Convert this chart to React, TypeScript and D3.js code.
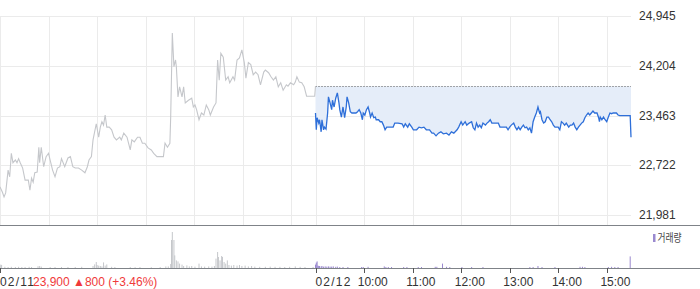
import React from "react";
import * as d3 from "d3";

const priceTicks = [21981, 22722, 23463, 24204, 24945];
const prevClose = 23900;
const dayLabels = ["02/11", "02/12"];
const hourLabels = ["10:00", "11:00", "12:00", "13:00", "14:00", "15:00"];
const summaryText = "23,900 \u25B2800 (+3.46%)";
const legendLabel = "거래량";

// [minute from 09:00, price]
const day1Prices: [number, number][] = [
  [0, 22400], [3, 22320], [5, 22250], [7, 22310], [10, 22650], [12, 22550], [14, 22900], [16, 22760],
  [19, 22800], [21, 22760], [23, 22820], [25, 22760], [28, 22680], [31, 22500], [35, 22500], [37, 22350],
  [39, 22530], [41, 22470], [43, 22610], [46, 22620], [48, 22990], [49, 22760], [51, 22990], [54, 22700],
  [57, 22850], [60, 22900], [62, 22800], [65, 22650], [68, 22550], [71, 22680], [74, 22700], [76, 22820],
  [80, 22700], [84, 22830], [87, 22850], [90, 22700], [93, 22680], [97, 22680], [101, 22650], [105, 22610],
  [108, 22700], [110, 22800], [113, 22850], [115, 23100], [119, 23340], [122, 23140], [124, 23290], [126, 23370],
  [128, 23320], [130, 23470], [132, 23290], [135, 23290], [138, 23250], [141, 23140], [144, 23100], [148, 23140],
  [150, 23100], [153, 23200], [157, 23140], [161, 22950], [163, 23100], [166, 23070], [170, 23140], [173, 23140],
  [176, 23050], [179, 23050], [183, 22980], [187, 22950], [190, 22900], [194, 22850], [198, 22850], [202, 22850],
  [204, 23050], [207, 22990], [210, 23050], [211, 23440], [213, 24690], [215, 24190], [217, 24290], [218, 24190],
  [220, 23740], [222, 23890], [225, 23740], [227, 23890], [229, 23650], [233, 23690], [237, 23720], [239, 23590],
  [241, 23620], [243, 23550], [246, 23400], [249, 23500], [252, 23470], [255, 23620], [258, 23550], [260, 23470],
  [264, 23590], [267, 23650], [269, 24290], [271, 23990], [273, 24390], [276, 24330], [279, 23990], [282, 24040],
  [284, 23950], [288, 24040], [290, 23990], [293, 24290], [296, 24320], [299, 24440], [302, 24250], [304, 24020],
  [307, 24250], [310, 24220], [313, 24070], [316, 24110], [319, 24070], [322, 23920], [326, 24110], [328, 24140],
  [332, 24100], [335, 24040], [338, 23990], [341, 24040], [344, 23890], [347, 23950], [350, 23840], [354, 23920],
  [356, 23900], [359, 23950], [363, 23920], [365, 23960], [367, 24040], [370, 23960], [373, 23950], [376, 23890],
  [379, 23750], [389, 23750], [390, 23900],
];

const day2Prices: [number, number][] = [
  [0, 23500], [1, 23250], [2, 23430], [4, 23350], [5, 23400], [7, 23220], [8, 23400], [10, 23250],
  [11, 23290], [13, 23260], [15, 23500], [16, 23740], [18, 23650], [20, 23550], [21, 23690], [23, 23590],
  [25, 23720], [27, 23800], [29, 23650], [30, 23550], [32, 23440], [34, 23590], [36, 23430], [38, 23590],
  [39, 23740], [41, 23650], [43, 23520], [45, 23500], [48, 23500], [50, 23500], [52, 23520], [54, 23550],
  [56, 23500], [58, 23400], [59, 23500], [61, 23470], [63, 23550], [65, 23590], [67, 23500], [68, 23440],
  [70, 23500], [72, 23430], [74, 23440], [75, 23400], [78, 23400], [80, 23370], [82, 23370], [84, 23320],
  [86, 23250], [88, 23290], [92, 23290], [96, 23290], [98, 23350], [102, 23350], [107, 23340], [109, 23290],
  [111, 23340], [114, 23290], [116, 23340], [119, 23290], [121, 23250], [125, 23250], [128, 23290], [131, 23280],
  [134, 23290], [137, 23250], [141, 23250], [144, 23200], [146, 23200], [149, 23160], [152, 23200], [155, 23220],
  [158, 23190], [162, 23200], [165, 23170], [168, 23220], [171, 23200], [175, 23250], [177, 23290], [180, 23370],
  [182, 23320], [185, 23370], [187, 23320], [190, 23350], [193, 23370], [195, 23280], [197, 23250], [199, 23350],
  [201, 23290], [203, 23320], [205, 23280], [207, 23350], [210, 23320], [212, 23350], [214, 23370], [216, 23400],
  [218, 23350], [220, 23350], [223, 23350], [226, 23350], [228, 23290], [232, 23290], [236, 23290], [238, 23250],
  [240, 23290], [242, 23320], [245, 23350], [247, 23290], [249, 23250], [251, 23290], [253, 23250], [255, 23290],
  [257, 23320], [259, 23280], [261, 23290], [263, 23250], [265, 23280], [267, 23200], [269, 23370], [271, 23440],
  [273, 23500], [275, 23590], [277, 23500], [278, 23520], [280, 23400], [282, 23350], [284, 23370], [286, 23440],
  [288, 23440], [290, 23400], [292, 23370], [294, 23320], [296, 23290], [298, 23290], [300, 23290], [302, 23250],
  [304, 23370], [306, 23350], [308, 23320], [310, 23350], [313, 23290], [315, 23320], [317, 23320], [319, 23350],
  [321, 23290], [323, 23250], [325, 23290], [327, 23320], [329, 23350], [331, 23370], [333, 23430], [335, 23470],
  [337, 23500], [339, 23470], [341, 23500], [343, 23530], [345, 23500], [348, 23500], [350, 23430], [351, 23370],
  [352, 23440], [354, 23400], [356, 23440], [358, 23400], [360, 23370], [362, 23440], [364, 23500], [366, 23490],
  [368, 23500], [372, 23500], [374, 23470], [376, 23460], [389, 23460], [390, 23140],
];

// [minute from 09:00, volume (thousand shares)]
const day1Volume: [number, number][] = [
  [1, 17], [2, 15], [6, 6], [10, 5], [14, 6], [19, 5], [23, 6], [27, 5], [31, 5], [36, 6], [39, 5],
  [47, 9], [49, 10], [51, 7], [62, 5], [68, 5], [76, 5], [84, 5], [93, 5], [101, 6],
  [115, 10], [117, 18], [119, 30], [120, 15], [122, 12], [124, 10], [126, 8], [128, 28], [130, 12], [132, 18],
  [138, 6], [142, 5], [161, 5], [167, 4], [173, 5], [187, 4], [198, 5], [205, 8], [208, 8],
  [211, 20], [212, 140], [213, 180], [215, 140], [216, 63], [218, 38], [220, 33], [222, 22], [225, 17],
  [227, 10], [231, 13], [234, 8], [237, 10], [241, 7], [246, 22], [249, 8], [253, 7], [258, 8], [262, 7],
  [265, 10], [267, 47], [269, 80], [270, 55], [272, 38], [274, 60], [275, 55], [277, 30], [279, 22], [281, 38],
  [283, 15], [286, 12], [289, 15], [293, 12], [296, 15], [299, 10], [303, 12], [307, 8], [311, 10], [315, 7],
  [321, 6], [328, 6], [334, 7], [340, 6], [346, 6], [352, 5], [358, 6], [365, 8], [371, 6], [377, 5], [387, 5],
];

const day2Volume: [number, number][] = [
  [0, 17], [1, 27], [2, 33], [3, 12], [4, 10], [5, 10], [7, 8], [8, 10], [10, 7], [12, 8], [14, 7], [16, 8],
  [18, 7], [20, 7], [22, 8], [25, 6], [27, 7], [30, 5], [34, 5], [40, 5], [57, 5], [59, 5], [65, 6], [85, 8],
  [87, 5], [90, 5], [94, 5], [109, 5], [113, 5], [127, 5], [131, 5], [148, 6], [150, 6], [157, 22], [162, 6],
  [166, 5], [181, 5], [193, 5], [207, 5], [265, 5], [269, 5], [275, 10], [280, 5], [296, 5], [327, 6],
  [330, 6], [333, 5], [362, 5], [366, 6], [370, 5], [374, 5], [389, 58],
];

const FONT = "'Liberation Sans', Arial, sans-serif";

export default function App() {
  const DAY = 390;
  const x = d3.scaleLinear().domain([0, DAY * 2]).range([0, 631]);
  const y = d3.scaleLinear().domain([priceTicks[0], priceTicks[priceTicks.length - 1]]).range([215, 16]);
  const yv = d3.scaleLinear().domain([0, 200]).range([268, 228]);

  const line1 = d3.line<[number, number]>().x((d) => x(d[0])).y((d) => y(d[1]))(day1Prices) || "";
  const line2 = d3.line<[number, number]>().x((d) => x(d[0] + DAY)).y((d) => y(d[1]))(day2Prices) || "";
  const area2 =
    d3
      .area<[number, number]>()
      .x((d) => x(d[0] + DAY))
      .y0(y(prevClose))
      .y1((d) => y(d[1]))(day2Prices) || "";

  const vGrid: number[] = [];
  for (let d = 0; d < 2; d++) for (let h = 0; h <= 6; h++) vGrid.push(d * DAY + h * 60);

  return (
    <svg width={700} height={289} style={{ position: "absolute", left: 0, top: 0 }} fontFamily={FONT}>
      <rect x={0} y={0} width={700} height={289} fill="#fff" />
      {priceTicks.map((t) => (
        <line key={"h" + t} x1={0} x2={631} y1={Math.round(y(t)) + 0.5} y2={Math.round(y(t)) + 0.5} stroke="#ebebeb" />
      ))}
      {vGrid.map((m) => (
        <line key={"v" + m} x1={Math.round(x(m)) + 0.5} x2={Math.round(x(m)) + 0.5} y1={16} y2={225} stroke="#ebebeb" />
      ))}
      <path d={area2} fill="#e5edf9" />
      <line x1={x(DAY)} x2={x(DAY * 2)} y1={Math.round(y(prevClose)) + 0.5} y2={Math.round(y(prevClose)) + 0.5} stroke="#555" strokeDasharray="1,2" />
      <path d={line1} fill="none" stroke="#c5c7cb" strokeWidth={1.1} />
      <path d={line2} fill="none" stroke="#2e6fd9" strokeWidth={1.3} />
      {priceTicks.map((t) => (
        <text key={"l" + t} x={639} y={y(t) + 4} fontSize={12} fill="#333">
          {d3.format(",")(t)}
        </text>
      ))}
      <line x1={0} x2={700} y1={225.5} y2={225.5} stroke="#7f8388" />
      {day1Volume.map((d) => (
        <rect key={"a" + d[0]} x={x(d[0]) - 0.5} width={1} y={yv(d[1])} height={yv(0) - yv(d[1])} fill="#c5c7cb" />
      ))}
      {day2Volume.map((d) => (
        <rect key={"b" + d[0]} x={x(d[0] + DAY) - 0.5} width={1} y={yv(d[1])} height={yv(0) - yv(d[1])} fill="#9a89cf" />
      ))}
      <rect x={653} y={234} width={2.5} height={8} fill="#9a89cf" />
      <text
        x={657.5}
        y={241.5}
        fontSize={11.5}
        fontFamily="'Noto Sans CJK KR', sans-serif"
        fill="#444"
        textLength={24}
        lengthAdjust="spacingAndGlyphs"
      >
        {legendLabel}
      </text>
      <line x1={0} x2={700} y1={268.5} y2={268.5} stroke="#7f8388" />
      {[0, DAY].map((m, i) => (
        <g key={"d" + m}>
          <line x1={Math.round(x(m)) + 0.5} x2={Math.round(x(m)) + 0.5} y1={268} y2={273} stroke="#555" />
          <text x={x(m)} y={286} fontSize={12} fill="#333" letterSpacing={1.2}>
            {dayLabels[i]}
          </text>
        </g>
      ))}
      {hourLabels.map((lab, i) => {
        const m = DAY + (i + 1) * 60;
        return (
          <g key={lab}>
            <line x1={Math.round(x(m)) + 0.5} x2={Math.round(x(m)) + 0.5} y1={268} y2={273} stroke="#555" />
            <text x={x(m) - 6.3} y={286} fontSize={12} fill="#333">
              {lab}
            </text>
          </g>
        );
      })}
      <text x={33} y={286} fontSize={12} fill="#f03a3a">
        {summaryText}
      </text>
    </svg>
  );
}
